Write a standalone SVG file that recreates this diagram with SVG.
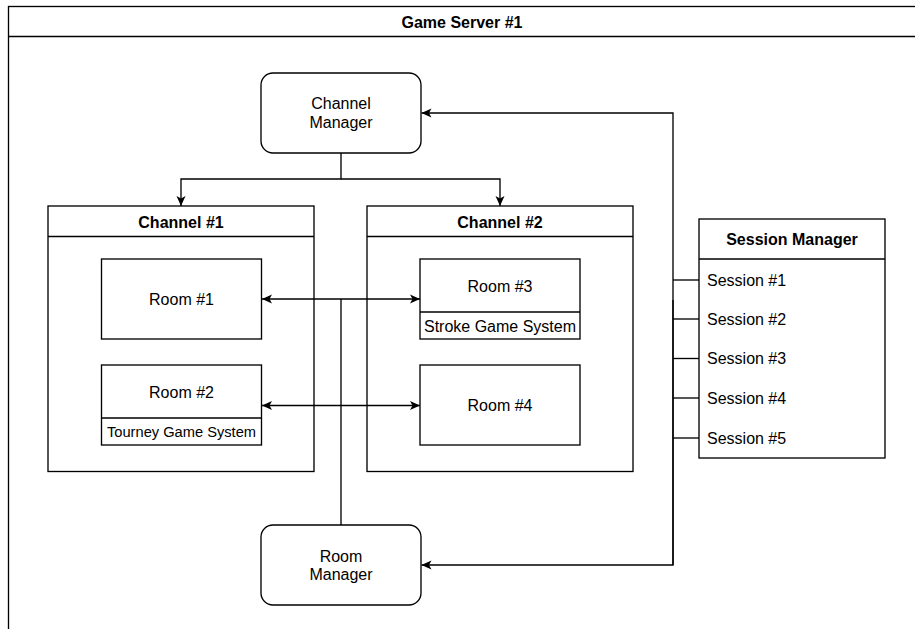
<svg xmlns="http://www.w3.org/2000/svg" width="915" height="629" viewBox="0 0 915 629">
  <style>
    .box { fill: #ffffff; stroke: #000000; stroke-width: 1.33; }
    .line { fill: none; stroke: #000000; stroke-width: 1.33; }
    .t { font-family: "Liberation Sans", Arial, Helvetica, sans-serif; font-size: 16px; fill: #000000; }
    .c { text-anchor: middle; }
    .b { font-weight: bold; }
    .s { font-size: 14.67px; }
  </style>
  <defs>
    <marker id="arrow" viewBox="0 0 10 10" refX="10" refY="5" markerWidth="10" markerHeight="10" markerUnits="userSpaceOnUse" orient="auto-start-reverse">
      <path d="M0,0.5 L10,5 L0,9.5 L2.5,5 Z" fill="#000000"/>
    </marker>
  </defs>

  <rect width="915" height="629" fill="#ffffff"/>

  <!-- outer container -->
  <g id="game-server">
    <rect class="box" x="8.5" y="6.5" width="920" height="640"/>
    <line class="line" x1="8.5" y1="36.5" x2="928.5" y2="36.5"/>
    <text class="t c b" x="462" y="27.5">Game Server #1</text>
  </g>

  <g id="channel-manager">
    <rect class="box" x="261" y="73" width="160" height="80" rx="12" ry="12"/>
    <text class="t c" x="341" y="109">Channel</text>
    <text class="t c" x="341" y="128">Manager</text>
  </g>

  <g id="room-manager">
    <rect class="box" x="261" y="525" width="160" height="80" rx="12" ry="12"/>
    <text class="t c" x="341" y="561.5">Room</text>
    <text class="t c" x="341" y="580">Manager</text>
  </g>

  <g id="channel-1">
    <rect class="box" x="48" y="206" width="266" height="265.5"/>
    <line class="line" x1="48" y1="236.5" x2="314" y2="236.5"/>
    <text class="t c b" x="181" y="227.5">Channel #1</text>
  </g>

  <g id="channel-2">
    <rect class="box" x="367" y="206" width="266" height="265.5"/>
    <line class="line" x1="367" y1="236.5" x2="633" y2="236.5"/>
    <text class="t c b" x="500" y="227.5">Channel #2</text>
  </g>

  <g id="room-1">
    <rect class="box" x="101.5" y="259" width="160" height="80"/>
    <text class="t c" x="181.5" y="304.5">Room #1</text>
  </g>

  <g id="room-2">
    <rect class="box" x="101.5" y="365" width="160" height="80"/>
    <line class="line" x1="101.5" y1="418" x2="261.5" y2="418"/>
    <text class="t c" x="181.5" y="397.5">Room #2</text>
    <text class="t c s" x="181.5" y="437">Tourney Game System</text>
  </g>

  <g id="room-3">
    <rect class="box" x="420" y="259" width="160" height="80"/>
    <line class="line" x1="420" y1="312" x2="580" y2="312"/>
    <text class="t c" x="500" y="291.5">Room #3</text>
    <text class="t c" x="500" y="331.5">Stroke Game System</text>
  </g>

  <g id="room-4">
    <rect class="box" x="420" y="365" width="160" height="80"/>
    <text class="t c" x="500" y="411">Room #4</text>
  </g>

  <g id="session-manager">
    <rect class="box" x="699" y="219" width="186" height="239"/>
    <line class="line" x1="699" y1="259" x2="885" y2="259"/>
    <text class="t c b" x="792" y="245">Session Manager</text>
    <text class="t" x="707" y="285.5">Session #1</text>
    <text class="t" x="707" y="324.5">Session #2</text>
    <text class="t" x="707" y="364">Session #3</text>
    <text class="t" x="707" y="403.5">Session #4</text>
    <text class="t" x="707" y="443.5">Session #5</text>
  </g>

  <!-- connectors, drawn above the containers they cross -->
  <g id="connectors">
    <path class="line" d="M341,153 V179 H181 V206" marker-end="url(#arrow)"/>
    <path class="line" d="M341,179 H500 V206" marker-end="url(#arrow)"/>
    <line class="line" x1="262" y1="299" x2="420" y2="299" marker-start="url(#arrow)" marker-end="url(#arrow)"/>
    <line class="line" x1="262" y1="405.5" x2="420" y2="405.5" marker-start="url(#arrow)" marker-end="url(#arrow)"/>
    <line class="line" x1="341" y1="299" x2="341" y2="525"/>
    <path class="line" d="M673,565 V113 H421.5" marker-end="url(#arrow)"/>
    <path class="line" d="M673,300 V565 H421.5" marker-end="url(#arrow)"/>
    <line class="line" x1="673" y1="280" x2="699" y2="280"/>
    <line class="line" x1="673" y1="319" x2="699" y2="319"/>
    <line class="line" x1="673" y1="358.5" x2="699" y2="358.5"/>
    <line class="line" x1="673" y1="398" x2="699" y2="398"/>
    <line class="line" x1="673" y1="438" x2="699" y2="438"/>
  </g>
</svg>
